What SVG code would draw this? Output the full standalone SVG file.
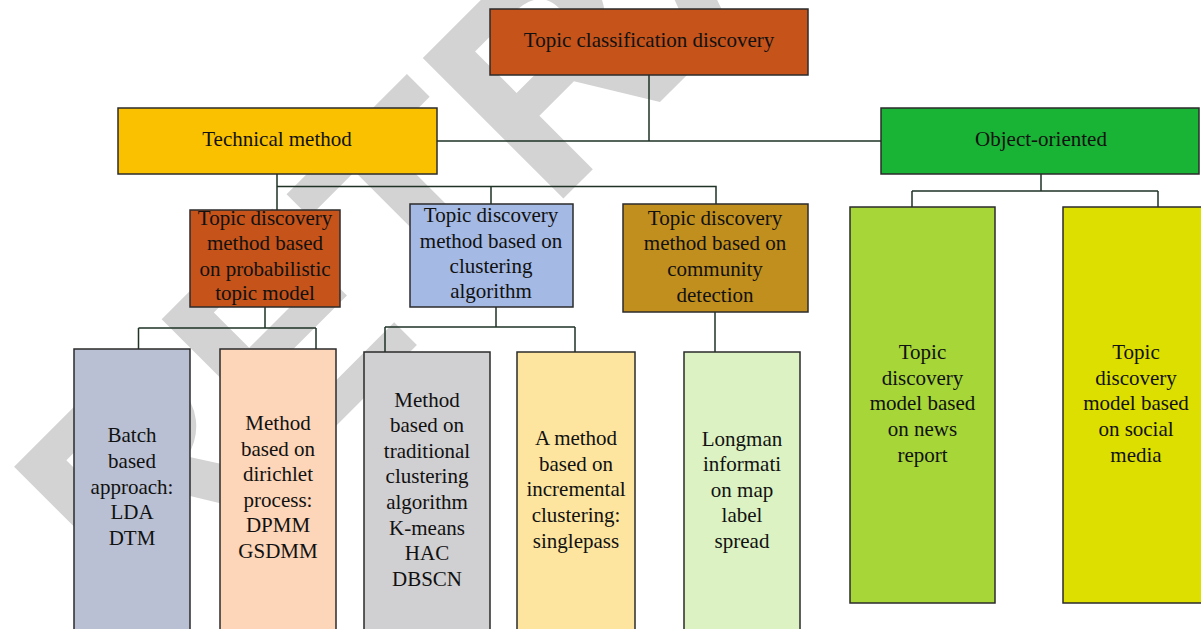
<svg xmlns="http://www.w3.org/2000/svg" width="1201" height="629" viewBox="0 0 1201 629">
  <style>
    .box { stroke: #2b2b2b; stroke-width: 1.5; }
    .lbl { font-family: "Liberation Serif", "Times New Roman", serif; font-size: 21px; fill: #111; text-anchor: middle; }
    .wire { fill: none; stroke: #1f3326; stroke-width: 1.5; }
    .mark { font-family: "Liberation Sans", Arial, sans-serif; font-weight: bold; font-size: 289px; fill: #d3d3d3; }
  </style>

  <rect width="1201" height="629" fill="#ffffff"/>

  <!-- background stamp -->
  <text class="mark" transform="translate(141,621) rotate(-45)">RETRACTED</text>

  <!-- connectors -->
  <g id="connectors">
    <path class="wire" d="M649,75 V141 M437,141 H881"/>
    <path class="wire" d="M277,174 V210 M277,186.5 H716 V204 M491,186.5 V204"/>
    <path class="wire" d="M1041,174 V191 M912,191 H1158 M912,191 V207 M1158,191 V207"/>
    <path class="wire" d="M265,307 V328 M138.5,328 H316 M138.5,328 V349 M316,328 V349"/>
    <path class="wire" d="M496,307 V327 M385,327 H575 M385,327 V352 M575,327 V352"/>
    <path class="wire" d="M715,312 V352"/>
  </g>

  <g id="root">
    <rect class="box" x="490" y="9" width="318" height="66" fill="#c5531a"/>
    <text class="lbl" x="649" y="47">Topic classification discovery</text>
  </g>

  <g id="technical">
    <rect class="box" x="118" y="108" width="319" height="66" fill="#fac100"/>
    <text class="lbl" x="277" y="146">Technical method</text>
  </g>

  <g id="object">
    <rect class="box" x="881" y="108" width="318" height="66" fill="#19b336"/>
    <text class="lbl" x="1041" y="146">Object-oriented</text>
  </g>

  <g id="probabilistic">
    <rect class="box" x="190" y="210" width="150" height="97" fill="#c5531a"/>
    <text class="lbl" x="265" y="225">Topic discovery</text>
    <text class="lbl" x="265" y="250">method based</text>
    <text class="lbl" x="265" y="275.5">on probabilistic</text>
    <text class="lbl" x="265" y="300">topic model</text>
  </g>

  <g id="clustering">
    <rect class="box" x="410" y="204" width="163" height="103" fill="#a4b9e3"/>
    <text class="lbl" x="491" y="222">Topic discovery</text>
    <text class="lbl" x="491" y="247.5">method based on</text>
    <text class="lbl" x="491" y="273">clustering</text>
    <text class="lbl" x="491" y="298">algorithm</text>
  </g>

  <g id="community">
    <rect class="box" x="623" y="204" width="185" height="108" fill="#c18f1d"/>
    <text class="lbl" x="715" y="225">Topic discovery</text>
    <text class="lbl" x="715" y="250">method based on</text>
    <text class="lbl" x="715" y="276">community</text>
    <text class="lbl" x="715" y="301.5">detection</text>
  </g>

  <g id="batch">
    <rect class="box" x="74" y="349" width="116" height="300" fill="#b9c0d3"/>
    <text class="lbl" x="132" y="442">Batch</text>
    <text class="lbl" x="132" y="468">based</text>
    <text class="lbl" x="132" y="493.5">approach:</text>
    <text class="lbl" x="132" y="519">LDA</text>
    <text class="lbl" x="132" y="545">DTM</text>
  </g>

  <g id="dirichlet">
    <rect class="box" x="220" y="349" width="116" height="300" fill="#fdd5b8"/>
    <text class="lbl" x="278" y="430">Method</text>
    <text class="lbl" x="278" y="455.5">based on</text>
    <text class="lbl" x="278" y="481">dirichlet</text>
    <text class="lbl" x="278" y="506.5">process:</text>
    <text class="lbl" x="278" y="532">DPMM</text>
    <text class="lbl" x="278" y="557.5">GSDMM</text>
  </g>

  <g id="traditional">
    <rect class="box" x="364" y="352" width="126" height="300" fill="#d0cfd1"/>
    <text class="lbl" x="427" y="407">Method</text>
    <text class="lbl" x="427" y="432">based on</text>
    <text class="lbl" x="427" y="457.5">traditional</text>
    <text class="lbl" x="427" y="483">clustering</text>
    <text class="lbl" x="427" y="509">algorithm</text>
    <text class="lbl" x="427" y="534.5">K-means</text>
    <text class="lbl" x="427" y="560">HAC</text>
    <text class="lbl" x="427" y="585.5">DBSCN</text>
  </g>

  <g id="incremental">
    <rect class="box" x="517" y="352" width="118" height="300" fill="#fde59f"/>
    <text class="lbl" x="576" y="445">A method</text>
    <text class="lbl" x="576" y="470.5">based on</text>
    <text class="lbl" x="576" y="496">incremental</text>
    <text class="lbl" x="576" y="521.5">clustering:</text>
    <text class="lbl" x="576" y="547.5">singlepass</text>
  </g>

  <g id="longman">
    <rect class="box" x="684" y="352" width="116" height="300" fill="#dcf2c2"/>
    <text class="lbl" x="742" y="445.5">Longman</text>
    <text class="lbl" x="742" y="471">informati</text>
    <text class="lbl" x="742" y="496.5">on map</text>
    <text class="lbl" x="742" y="522">label</text>
    <text class="lbl" x="742" y="547.5">spread</text>
  </g>

  <g id="news">
    <rect class="box" x="850" y="207" width="145" height="396" fill="#a6d638"/>
    <text class="lbl" x="922.5" y="359">Topic</text>
    <text class="lbl" x="922.5" y="384.5">discovery</text>
    <text class="lbl" x="922.5" y="410">model based</text>
    <text class="lbl" x="922.5" y="435.5">on news</text>
    <text class="lbl" x="922.5" y="461.5">report</text>
  </g>

  <g id="social">
    <rect class="box" x="1063" y="207" width="150" height="396" fill="#dcdf00"/>
    <text class="lbl" x="1136" y="359">Topic</text>
    <text class="lbl" x="1136" y="384.5">discovery</text>
    <text class="lbl" x="1136" y="410">model based</text>
    <text class="lbl" x="1136" y="435.5">on social</text>
    <text class="lbl" x="1136" y="461.5">media</text>
  </g>
</svg>
